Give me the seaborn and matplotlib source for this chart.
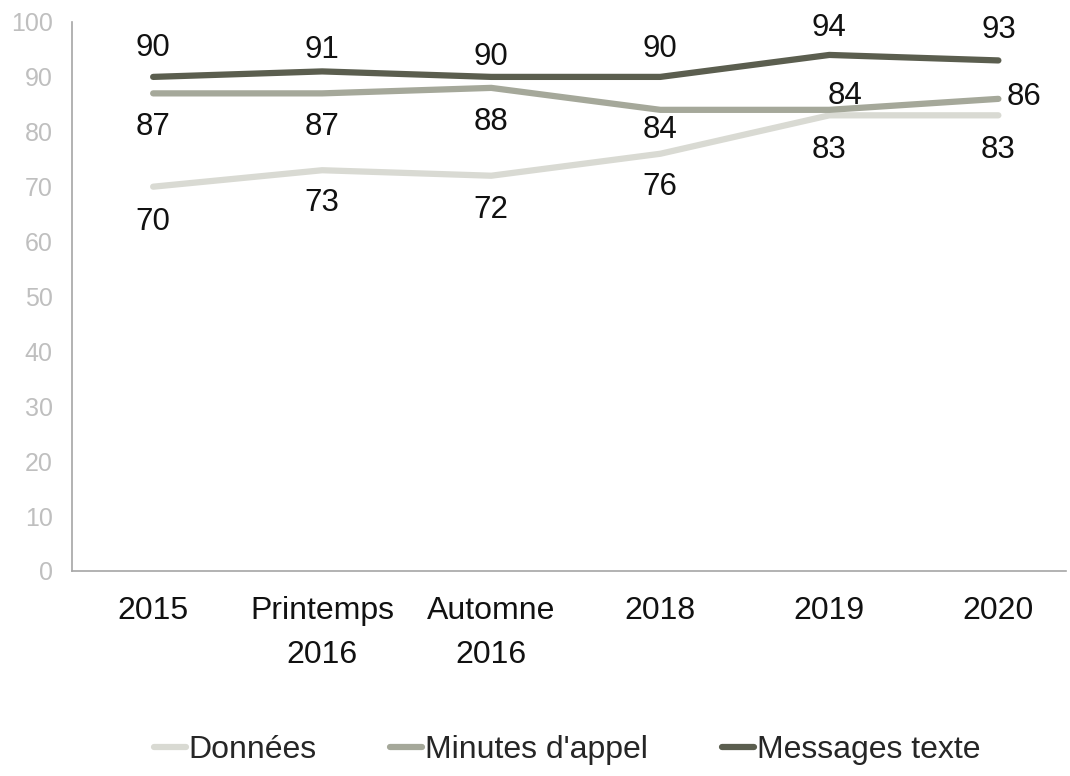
import matplotlib
matplotlib.use("Agg")
import matplotlib.pyplot as plt
import seaborn as sns
import pandas as pd

categories = ["2015", "Printemps\n2016", "Automne\n2016", "2018", "2019", "2020"]
donnees = [70, 73, 72, 76, 83, 83]
minutes = [87, 87, 88, 84, 84, 86]
messages = [90, 91, 90, 90, 94, 93]
series_names = ["Données", "Minutes d'appel", "Messages texte"]
colors = ["#d9dad3", "#a5a89a", "#5b5e4f"]

# label offsets in pixels (dx, dy) per series per point
label_offsets = {
    "Données": [(0, -35), (0, -33), (0, -34), (0, -33), (0, -35), (0, -35)],
    "Minutes d'appel": [(0, -34), (0, -34), (0, -34), (0, -20), (16, 14), (26, 2)],
    "Messages texte": [(0, 29), (0, 21), (0, 20), (0, 28), (0, 27), (0, 30)],
}

sns.set_theme(style="white")
plt.rcParams["font.family"] = ["Liberation Sans", "DejaVu Sans"]

rows = []
for name, vals in zip(series_names, [donnees, minutes, messages]):
    for i, v in enumerate(vals):
        rows.append({"pos": i, "cat": categories[i], "val": v, "serie": name})
df = pd.DataFrame(rows)

fig = plt.figure(figsize=(10.7, 7.76), dpi=100)
ax = fig.add_axes([72 / 1070, (776 - 571) / 776, (1066 - 72) / 1070, 549 / 776])

sns.lineplot(data=df, x="pos", y="val", hue="serie", hue_order=series_names,
             palette=colors, linewidth=4.5, sort=False, ax=ax,
             solid_capstyle="round")

for name, vals in zip(series_names, [donnees, minutes, messages]):
    for i, v in enumerate(vals):
        dx, dy = label_offsets[name][i]
        ax.annotate(str(v), (i, v), xytext=(dx, dy), textcoords="offset pixels",
                    ha="center", va="center", fontsize=22.5, color="#111111")

ax.set_xlim(-0.48, 5.4)
ax.set_ylim(0, 100)
ax.set_yticks(range(0, 101, 10))
ax.set_xticks(range(len(categories)))
ax.set_xticklabels(categories, fontsize=23, color="#111111", linespacing=1.6)
ax.tick_params(axis="y", labelsize=18, labelcolor="#bfbfbf", length=0, pad=14)
ax.tick_params(axis="x", length=0, pad=18)
ax.set_xlabel("")
ax.set_ylabel("")
for s in ["top", "right"]:
    ax.spines[s].set_visible(False)
for s in ["left", "bottom"]:
    ax.spines[s].set_color("#a6a6a6")
    ax.spines[s].set_linewidth(1.2)

handles, labels = ax.get_legend_handles_labels()
ax.get_legend().remove()
fig.legend(handles, labels, loc="center", bbox_to_anchor=(567 / 1070, 1 - 750 / 776),
           ncol=3, frameon=False, fontsize=23, handlelength=1.0, handletextpad=0.1,
           columnspacing=2.3)

fig.savefig("out.png", dpi=100, facecolor="white")
